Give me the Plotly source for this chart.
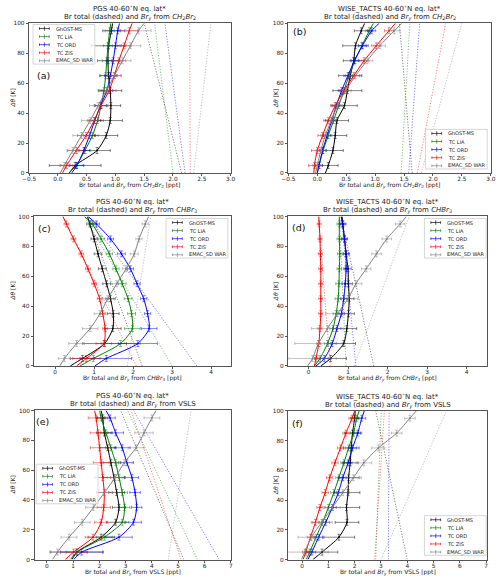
import plotly.graph_objects as go

W, H = 500, 585
FONT = "DejaVu Sans"

# ---------------- data ----------------
LEV_LINE = [0, 5, 15, 25, 35, 45, 55, 65, 75, 85, 95, 100]   # Δθ levels of fitted profiles
LEV_PTS = [5, 15, 25, 35, 45, 55, 65, 75, 85, 95]            # Δθ levels of binned data
LEV_TOT = [0, 100]
SERIES = ["GhOST-MS", "TC LIA", "TC ORD", "TC ZIS", "EMAC_SD WAR"]
COLORS = [(0, 0, 0), (0, 128, 0), (0, 0, 255), (255, 0, 0), (128, 128, 128)]
YERR = 2.0

# (a) PGS CH2Br2
a_ghost = [0.20, 0.30, 0.68, 0.84, 0.91, 0.92, 0.91, 0.88, 0.87, 0.88, 0.93, 0.95]
a_lia = [0.19, 0.32, 0.47, 0.60, 0.69, 0.75, 0.80, 0.83, 0.85, 0.87, 0.90, 0.92]
a_ord = [0.24, 0.33, 0.45, 0.55, 0.64, 0.74, 0.85, 0.91, 0.96, 1.00, 1.04, 1.07]
a_zis = [0.08, 0.15, 0.32, 0.49, 0.63, 0.75, 0.89, 0.98, 1.06, 1.15, 1.24, 1.29]
a_war = [0.04, 0.11, 0.26, 0.41, 0.56, 0.70, 0.84, 0.98, 1.12, 1.26, 1.40, 1.50]
a_ghost_err = [0.45, 0.23, 0.20, 0.21, 0.17, 0.20, 0.15, 0.18, 0.30, 0.15]
a_lia_err = [0.12, 0.10, 0.10, 0.10, 0.10, 0.10, 0.10, 0.08, 0.08, 0.08]
a_ord_err = [0.12, 0.10, 0.10, 0.10, 0.10, 0.10, 0.10, 0.12, 0.10, 0.12]
a_zis_err = [0.10, 0.15, 0.15, 0.12, 0.12, 0.12, 0.12, 0.12, 0.12, 0.15]
a_war_err = [0.08, 0.10, 0.15, 0.15, 0.15, 0.12, 0.12, 0.15, 0.18, 0.22]
a_tot_bottom = [2.15, 2.00, 2.21, 2.30, 2.36]
a_tot_top = [1.50, 1.68, 1.86, 2.29, 2.66]

# (b) WISE_TACTS CH2Br2
b_ghost = [0.14, 0.19, 0.27, 0.31, 0.34, 0.47, 0.52, 0.57, 0.63, 0.66, 0.76, 0.82]
b_lia = [0.00, 0.03, 0.10, 0.19, 0.28, 0.37, 0.46, 0.55, 0.65, 0.77, 0.90, 0.97]
b_ord = [0.00, 0.03, 0.09, 0.17, 0.25, 0.33, 0.42, 0.53, 0.64, 0.78, 0.94, 1.07]
b_zis = [-0.06, -0.05, 0.00, 0.09, 0.19, 0.31, 0.46, 0.63, 0.81, 1.02, 1.24, 1.35]
b_war = [-0.03, 0.00, 0.06, 0.14, 0.24, 0.35, 0.49, 0.66, 0.86, 1.08, 1.33, 1.46]
b_ghost_err = [0.17, 0.18, 0.20, 0.20, 0.22, 0.25, 0.20, 0.18, 0.22, 0.12]
b_lia_err = [0.06, 0.06, 0.06, 0.06, 0.06, 0.06, 0.06, 0.06, 0.06, 0.06]
b_ord_err = [0.06, 0.06, 0.06, 0.06, 0.06, 0.06, 0.07, 0.07, 0.07, 0.07]
b_zis_err = [0.10, 0.10, 0.08, 0.08, 0.08, 0.08, 0.10, 0.08, 0.08, 0.08]
b_war_err = [0.08, 0.08, 0.08, 0.08, 0.08, 0.10, 0.10, 0.10, 0.10, 0.10]
b_tot_bottom = [1.64, 1.45, 1.58, 1.73, 1.80]
b_tot_top = [1.42, 1.60, 1.77, 2.22, 2.50]

# (c) PGS CHBr3
c_ghost = [0.39, 0.70, 1.27, 1.48, 1.49, 1.42, 1.32, 1.21, 1.10, 1.00, 0.89, 0.83]
c_lia = [0.64, 0.98, 1.68, 1.98, 1.96, 1.87, 1.72, 1.56, 1.39, 1.18, 0.95, 0.75]
c_ord = [1.02, 1.31, 2.12, 2.41, 2.37, 2.27, 2.10, 1.93, 1.70, 1.42, 1.06, 0.85]
c_zis = [0.55, 0.80, 1.25, 1.28, 1.22, 1.14, 1.00, 0.84, 0.67, 0.47, 0.29, 0.20]
c_war = [0.12, 0.24, 0.55, 0.90, 1.15, 1.35, 1.58, 1.82, 2.03, 2.15, 2.31, 2.40]
c_ghost_err = [0.31, 0.56, 0.21, 0.15, 0.12, 0.10, 0.10, 0.10, 0.08, 0.08]
c_lia_err = [0.35, 0.50, 0.20, 0.10, 0.10, 0.10, 0.08, 0.08, 0.08, 0.08]
c_ord_err = [0.65, 0.50, 0.20, 0.08, 0.08, 0.08, 0.08, 0.10, 0.08, 0.08]
c_zis_err = [0.35, 0.20, 0.06, 0.06, 0.06, 0.06, 0.06, 0.06, 0.06, 0.06]
c_war_err = [0.15, 0.20, 0.20, 0.15, 0.15, 0.12, 0.10, 0.10, 0.08, 0.08]
c_tot_bottom = [2.23, 3.00, 3.63, 2.08, 1.85]
c_tot_top = [0.82, 0.75, 0.85, 0.20, 2.45]

# (d) WISE_TACTS CHBr3
d_ghost = [0.31, 0.56, 0.89, 0.97, 1.01, 1.03, 1.01, 1.00, 0.95, 0.91, 0.87, 0.85]
d_lia = [0.15, 0.29, 0.48, 0.62, 0.70, 0.75, 0.77, 0.78, 0.79, 0.78, 0.78, 0.78]
d_ord = [0.19, 0.40, 0.60, 0.72, 0.83, 0.89, 0.93, 0.95, 0.95, 0.91, 0.86, 0.83]
d_zis = [0.15, 0.19, 0.26, 0.29, 0.31, 0.31, 0.31, 0.31, 0.30, 0.29, 0.27, 0.26]
d_war = [-0.02, 0.10, 0.25, 0.48, 0.73, 1.00, 1.20, 1.46, 1.72, 1.98, 2.32, 2.48]
d_ghost_err = [0.40, 0.30, 0.25, 0.15, 0.12, 0.10, 0.08, 0.08, 0.08, 0.08]
d_lia_err = [0.08, 0.08, 0.08, 0.08, 0.08, 0.08, 0.06, 0.06, 0.06, 0.06]
d_ord_err = [0.10, 0.10, 0.10, 0.08, 0.08, 0.08, 0.06, 0.06, 0.06, 0.06]
d_zis_err = [0.05, 0.05, 0.05, 0.05, 0.05, 0.05, 0.05, 0.05, 0.05, 0.05]
d_war_err = [0.60, 0.60, 0.40, 0.30, 0.25, 0.15, 0.12, 0.12, 0.12, 0.12]
d_tot_bottom = [1.65, 0.95, 1.20, 0.55, 1.15]
d_tot_top = [0.82, 0.78, 0.83, 0.25, 2.55]

# (e) PGS VSLS
e_ghost = [0.96, 1.15, 2.07, 2.62, 2.75, 2.66, 2.56, 2.44, 2.32, 2.19, 2.13, 2.07]
e_lia = [0.90, 1.15, 2.19, 2.87, 2.96, 2.87, 2.75, 2.62, 2.44, 2.25, 2.07, 2.01]
e_ord = [1.02, 1.33, 2.75, 3.30, 3.42, 3.36, 3.24, 3.05, 2.87, 2.62, 2.41, 2.25]
e_zis = [0.71, 1.02, 1.76, 2.07, 2.17, 2.19, 2.13, 2.07, 2.01, 1.95, 1.88, 1.82]
e_war = [0.22, 0.41, 0.85, 1.35, 1.78, 2.20, 2.60, 2.95, 3.40, 3.70, 4.00, 4.16]
e_ghost_err = [1.00, 0.50, 0.35, 0.25, 0.30, 0.40, 0.30, 0.30, 0.30, 0.20]
e_lia_err = [0.40, 0.30, 0.25, 0.20, 0.20, 0.20, 0.20, 0.20, 0.20, 0.15]
e_ord_err = [0.80, 0.50, 0.30, 0.20, 0.20, 0.25, 0.25, 0.30, 0.30, 0.20]
e_zis_err = [0.50, 0.30, 0.25, 0.25, 0.30, 0.30, 0.30, 0.35, 0.30, 0.30]
e_war_err = [0.30, 0.30, 0.30, 0.30, 0.30, 0.30, 0.30, 0.30, 0.35, 0.30]
e_tot_bottom = [5.21, 5.73, 6.56, 5.11, 4.62]
e_tot_top = [2.81, 3.08, 3.30, 3.21, 5.49]

# (f) WISE_TACTS VSLS
f_ghost = [0.41, 0.76, 1.40, 1.71, 1.69, 1.75, 1.77, 1.83, 1.87, 1.92, 2.00, 2.02]
f_lia = [0.16, 0.29, 0.53, 0.78, 1.00, 1.21, 1.40, 1.59, 1.77, 1.96, 2.08, 2.17]
f_ord = [0.22, 0.37, 0.63, 0.90, 1.15, 1.38, 1.55, 1.75, 1.92, 2.12, 2.27, 2.37]
f_zis = [0.04, 0.14, 0.32, 0.51, 0.68, 0.88, 1.05, 1.25, 1.46, 1.67, 1.90, 2.00]
f_war = [-0.02, 0.10, 0.35, 0.75, 1.15, 1.55, 1.95, 2.35, 2.90, 3.60, 4.10, 4.35]
f_ghost_err = [0.60, 0.60, 0.45, 0.50, 0.45, 0.40, 0.30, 0.30, 0.30, 0.15]
f_lia_err = [0.12, 0.12, 0.12, 0.12, 0.12, 0.12, 0.12, 0.12, 0.12, 0.12]
f_ord_err = [0.15, 0.15, 0.15, 0.15, 0.15, 0.15, 0.15, 0.15, 0.15, 0.15]
f_zis_err = [0.12, 0.12, 0.12, 0.12, 0.12, 0.12, 0.12, 0.12, 0.12, 0.12]
f_war_err = [0.90, 0.50, 0.40, 0.30, 0.25, 0.30, 0.30, 0.25, 0.20, 0.20]
f_tot_bottom = [4.00, 2.80, 3.28, 2.76, 3.00]
f_tot_top = [2.80, 3.01, 3.31, 3.13, 5.49]

X_TICKS_AB = [-0.5, 0.0, 0.5, 1.0, 1.5, 2.0, 2.5, 3.0]
X_TICKS_CD = [0, 1, 2, 3, 4]
X_TICKS_EF = [0, 1, 2, 3, 4, 5, 6, 7]
Y_TICKS = [0, 20, 40, 60, 80, 100]

CH2BR2 = "<i>CH</i><sub>2</sub><i>Br</i><sub>2</sub>"
CHBR3 = "<i>CHBr</i><sub>3</sub>"
BRY = "<i>Br</i><sub><i>y</i></sub>"

# ---------------- layout geometry (pixels) ----------------
panels = [
    dict(tag="(a)", camp="PGS", spec=CH2BR2, box=(22.7, 229.0, 20.5, 171.7), xr=[-0.5, 3.0],
         xt=X_TICKS_AB, fmt=".1f", lab=(37, 73.3), leg=(26.7, 21.7), ytx=5.5,
         vals=[a_ghost, a_lia, a_ord, a_zis, a_war],
         errs=[a_ghost_err, a_lia_err, a_ord_err, a_zis_err, a_war_err],
         tb=a_tot_bottom, tt=a_tot_top),
    dict(tag="(b)", camp="WISE_TACTS", spec=CH2BR2, box=(288.3, 495.7, 20.5, 171.7), xr=[-0.5, 3.0],
         xt=X_TICKS_AB, fmt=".1f", lab=(299.3, 28.5), leg=(428.7, 127.7), ytx=274.5,
         vals=[b_ghost, b_lia, b_ord, b_zis, b_war],
         errs=[b_ghost_err, b_lia_err, b_ord_err, b_zis_err, b_war_err],
         tb=b_tot_bottom, tt=b_tot_top),
    dict(tag="(c)", camp="PGS", spec=CHBR3, box=(27.7, 230.0, 215.7, 366.7), xr=[-0.54, 4.52],
         xt=X_TICKS_CD, fmt="d", lab=(38, 227.5), leg=(163.0, 217.7), ytx=5.5,
         vals=[c_ghost, c_lia, c_ord, c_zis, c_war],
         errs=[c_ghost_err, c_lia_err, c_ord_err, c_zis_err, c_war_err],
         tb=c_tot_bottom, tt=c_tot_top),
    dict(tag="(d)", camp="WISE_TACTS", spec=CHBR3, box=(288.3, 492.3, 215.7, 366.7), xr=[-0.51, 4.53],
         xt=X_TICKS_CD, fmt="d", lab=(298.3, 226.7), leg=(427.7, 217.7), ytx=274.5,
         vals=[d_ghost, d_lia, d_ord, d_zis, d_war],
         errs=[d_ghost_err, d_lia_err, d_ord_err, d_zis_err, d_war_err],
         tb=d_tot_bottom, tt=d_tot_top),
    dict(tag="(e)", camp="PGS", spec="VSLS", box=(28.3, 229.3, 411.7, 562.3), xr=[-0.46, 7.0],
         xt=X_TICKS_EF, fmt="d", lab=(36.7, 422.5), leg=(30.0, 466.0), ytx=5.5,
         vals=[e_ghost, e_lia, e_ord, e_zis, e_war],
         errs=[e_ghost_err, e_lia_err, e_ord_err, e_zis_err, e_war_err],
         tb=e_tot_bottom, tt=e_tot_top),
    dict(tag="(f)", camp="WISE_TACTS", spec="VSLS", box=(288.3, 492.3, 412.0, 562.3), xr=[-0.52, 7.05],
         xt=X_TICKS_EF, fmt="d", lab=(297.7, 424.5), leg=(427.7, 518.0), ytx=274.5,
         vals=[f_ghost, f_lia, f_ord, f_zis, f_war],
         errs=[f_ghost_err, f_lia_err, f_ord_err, f_zis_err, f_war_err],
         tb=f_tot_bottom, tt=f_tot_top),
]


def px(x):
    return x / W


def py(y):
    return 1 - y / H


def rgba(c, a):
    return "rgba(%d,%d,%d,%.2f)" % (c[0], c[1], c[2], a)


def note(text, x, y, size, xanchor="center", angle=0, color="#222222"):
    return dict(text=text, x=px(x), y=py(y), xref="paper", yref="paper", showarrow=False,
                xanchor=xanchor, yanchor="middle", textangle=angle,
                font=dict(family=FONT, size=size, color=color))


fig = go.Figure()
annotations = []
shapes = []
layout = {}

for i, p in enumerate(panels, start=1):
    xs = "x" if i == 1 else "x%d" % i
    ys = "y" if i == 1 else "y%d" % i
    xl, xr_, yt, yb = p["box"]
    axcommon = dict(showline=True, mirror=True, linecolor="#555555", linewidth=0.9,
                    ticks="outside", ticklen=2.5, tickwidth=0.8, tickcolor="#555555",
                    showgrid=False, zeroline=False,
                    tickfont=dict(family=FONT, size=5.8, color="#222222"))
    layout["xaxis" if i == 1 else "xaxis%d" % i] = dict(
        domain=[px(xl), px(xr_)], range=p["xr"], anchor=ys, tickvals=p["xt"],
        ticktext=[(format(v, p["fmt"]) if v >= 0 else "\u2212" + format(-v, p["fmt"])) for v in p["xt"]],
        ticklabelstandoff=-2, **axcommon)
    layout["yaxis" if i == 1 else "yaxis%d" % i] = dict(
        domain=[py(yb), py(yt)], range=[0, 100], anchor=xs, tickvals=Y_TICKS, **axcommon)

    # Br total (dotted)
    for k in range(5):
        fig.add_trace(go.Scatter(
            x=[p["tb"][k], p["tt"][k]], y=LEV_TOT, mode="lines", xaxis=xs, yaxis=ys,
            line=dict(color=rgba(COLORS[k], 0.5), width=1, dash="1.2px,1.6px"),
            showlegend=False, hoverinfo="skip"))
    # Bry profiles + binned data
    for k in range(5):
        fig.add_trace(go.Scatter(
            x=p["vals"][k], y=LEV_LINE, mode="lines", xaxis=xs, yaxis=ys,
            line=dict(color=rgba(COLORS[k], 1), width=1, shape="spline", smoothing=0.7),
            showlegend=False, hoverinfo="skip"))
        fig.add_trace(go.Scatter(
            x=p["vals"][k][1:-1], y=LEV_PTS, mode="markers", xaxis=xs, yaxis=ys,
            marker=dict(color=rgba(COLORS[k], 0.8), size=2),
            error_x=dict(type="data", array=p["errs"][k], color=rgba(COLORS[k], 0.6),
                         thickness=0.8, width=1.5),
            error_y=dict(type="constant", value=YERR, color=rgba(COLORS[k], 0.6),
                         thickness=0.8, width=1.5),
            name=SERIES[k], showlegend=False, hoverinfo="skip"))

    cx = (xl + xr_) / 2
    annotations.append(note("%s 40-60<sup>\u2218</sup>N eq. lat*" % p["camp"], cx, yt - 15.2, 7))
    annotations.append(note("Br total (dashed) and %s from %s" % (BRY, p["spec"]), cx, yt - 5.8, 7))
    annotations.append(note("Br total and %s from %s [ppt]" % (BRY, p["spec"]), cx, yb + 12.6, 6))
    annotations.append(note("<i>\u0394\u03b8</i> [K]", p["ytx"], (yt + yb) / 2, 6, angle=-90))
    annotations.append(note(p["tag"], p["lab"][0], p["lab"][1], 9.5, color="#111111"))

    # legend box (drawn manually, matplotlib style)
    lx, ly = p["leg"]
    shapes.append(dict(type="rect", xref="paper", yref="paper", x0=px(lx), x1=px(lx + 63.3),
                       y0=py(ly + 40), y1=py(ly), line=dict(color="#cccccc", width=0.8),
                       fillcolor="rgba(255,255,255,0.8)", layer="above"))
    for k in range(5):
        cy = ly + 4.1 + 8.15 * k
        g0, g1, gm = lx + 6.6, lx + 16.6, lx + 11.6
        col = rgba(COLORS[k], 0.75)
        shapes.append(dict(type="line", xref="paper", yref="paper", x0=px(g0), x1=px(g1),
                           y0=py(cy), y1=py(cy), line=dict(color=col, width=0.9), layer="above"))
        for gx, hh in ((g0, 1.3), (g1, 1.3), (gm, 2.2)):
            shapes.append(dict(type="line", xref="paper", yref="paper", x0=px(gx), x1=px(gx),
                               y0=py(cy - hh), y1=py(cy + hh), line=dict(color=col, width=0.9),
                               layer="above"))
        annotations.append(note(SERIES[k], lx + 21, cy, 5, xanchor="left"))

fig.update_layout(
    width=W, height=H, margin=dict(l=0, r=0, t=0, b=0),
    paper_bgcolor="white", plot_bgcolor="white", showlegend=False,
    annotations=annotations, shapes=shapes, **layout)

fig.write_html("out.html", config={"displayModeBar": False},
               post_script="document.body.style.margin='0px';document.body.style.overflow='hidden';")
